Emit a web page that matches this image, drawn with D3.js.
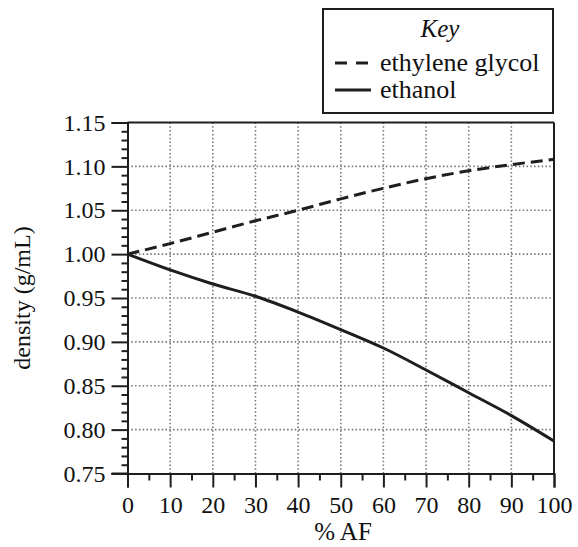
<!DOCTYPE html>
<html><head><meta charset="utf-8">
<script src="https://cdn.jsdelivr.net/npm/d3@7"></script>
<style>body{margin:0;background:#fff}svg{display:block}text{font-family:"Liberation Serif","Times New Roman",serif}</style>
</head><body>
<svg id="c" width="578" height="547"></svg>
<script>
const pctAF = [0,10,20,30,40,50,60,70,80,90,100];
const ethyleneGlycol = [1.000,1.012,1.025,1.038,1.050,1.063,1.075,1.086,1.095,1.102,1.108];
const ethanol = [1.000,0.982,0.966,0.952,0.934,0.914,0.893,0.868,0.842,0.816,0.787];
const xTicks = [0,10,20,30,40,50,60,70,80,90,100];
const yTicks = [0.75,0.80,0.85,0.90,0.95,1.00,1.05,1.10,1.15];
const legendLabels = ["ethylene glycol","ethanol"];

const svg = d3.select("#c");
const font = '"Liberation Serif","Times New Roman",serif';
const x = d3.scaleLinear().domain([0,100]).range([127.5,554]);
const y = d3.scaleLinear().domain([0.75,1.15]).range([473.5,122.5]);
const ink = "#1e1e1e";

// grid
const g = svg.append("g");
g.selectAll(".gx").data(xTicks.filter(d=>d>0&&d<100)).join("line")
  .attr("x1",d=>x(d)).attr("x2",d=>x(d)).attr("y1",y(1.15)).attr("y2",y(0.75))
  .attr("stroke","#777").attr("stroke-width",1.6).attr("stroke-dasharray","1.5,2.3");
g.selectAll(".gy").data(yTicks.filter(d=>d>0.75&&d<1.15)).join("line")
  .attr("y1",d=>y(d)).attr("y2",d=>y(d)).attr("x1",x(0)).attr("x2",x(100))
  .attr("stroke","#777").attr("stroke-width",1.6).attr("stroke-dasharray","1.5,2.3");

// frame top/right
svg.append("line").attr("x1",x(0)).attr("x2",x(100)).attr("y1",y(1.15)).attr("y2",y(1.15)).attr("stroke",ink).attr("stroke-width",2);
svg.append("line").attr("x1",x(100)).attr("x2",x(100)).attr("y1",y(1.15)).attr("y2",y(0.75)).attr("stroke",ink).attr("stroke-width",2);

// y axis
const yAxis = d3.axisLeft(y).tickValues(yTicks).tickFormat(d3.format(".2f")).tickSize(16).tickPadding(6);
svg.append("g").attr("transform",`translate(${x(0)},0)`).call(yAxis);
const yMinor = d3.range(75,116).map(v=>v/100).filter(v=>Math.round(v*100)%5!==0);
svg.append("g").attr("transform",`translate(${x(0)},0)`)
  .call(d3.axisLeft(y).tickValues(yMinor).tickSize(6).tickFormat(""))
  .call(s=>s.select(".domain").remove());

// x axis
const xAxis = d3.axisBottom(x).tickValues(xTicks).tickSize(14).tickPadding(8);
svg.append("g").attr("transform",`translate(0,${y(0.75)})`).call(xAxis);
const xMinor = d3.range(5,100,10);
svg.append("g").attr("transform",`translate(0,${y(0.75)})`)
  .call(d3.axisBottom(x).tickValues(xMinor).tickSize(7).tickFormat(""))
  .call(s=>s.select(".domain").remove());

svg.selectAll("g").attr("font-family",null);
svg.selectAll(".domain").attr("stroke",ink).attr("stroke-width",2);
svg.selectAll(".tick line").attr("stroke",ink).attr("stroke-width",2);
svg.selectAll(".tick text").style("font-family",font).style("font-size","24px").attr("fill","#111");
svg.append("line").attr("x1",x(0)-16).attr("x2",x(0)).attr("y1",y(0.75)).attr("y2",y(0.75)).attr("stroke",ink).attr("stroke-width",2);

// lines
const line = d3.line().x((d,i)=>x(pctAF[i])).y(d=>y(d)).curve(d3.curveMonotoneX);
svg.append("path").datum(ethyleneGlycol).attr("d",line).attr("fill","none")
  .attr("stroke",ink).attr("stroke-width",3).attr("stroke-dasharray","12,6");
svg.append("path").datum(ethanol).attr("d",line).attr("fill","none")
  .attr("stroke",ink).attr("stroke-width",3);

// axis titles
svg.append("text").attr("transform",`translate(30,${(y(0.75)+y(1.15))/2}) rotate(-90)`)
  .attr("text-anchor","middle").style("font-family",font).style("font-size","24px").attr("fill","#111")
  .text("density (g/mL)");
svg.append("text").attr("x",343).attr("y",540).attr("text-anchor","middle")
  .style("font-family",font).style("font-size","25px").attr("fill","#111").text("% AF");

// legend
const lg = svg.append("g");
lg.append("rect").attr("x",323).attr("y",9).attr("width",230).attr("height",104)
  .attr("fill","none").attr("stroke",ink).attr("stroke-width",2);
lg.append("text").attr("x",440).attr("y",37).attr("text-anchor","middle").style("font-style","italic")
  .style("font-family",font).style("font-size","25px").attr("fill","#111").text("Key");
const ly = [63,90];
lg.selectAll(".ls").data(legendLabels).join("line")
  .attr("x1",335).attr("x2",371).attr("y1",(d,i)=>ly[i]).attr("y2",(d,i)=>ly[i])
  .attr("stroke",ink).attr("stroke-width",3).attr("stroke-dasharray",(d,i)=>i===0?"12,9":null);
lg.selectAll(".lt").data(legendLabels).join("text")
  .attr("x",380).attr("y",(d,i)=>ly[i]+8).style("font-family",font).style("font-size","26px").attr("fill","#111")
  .text(d=>d);
</script>
</body></html>
